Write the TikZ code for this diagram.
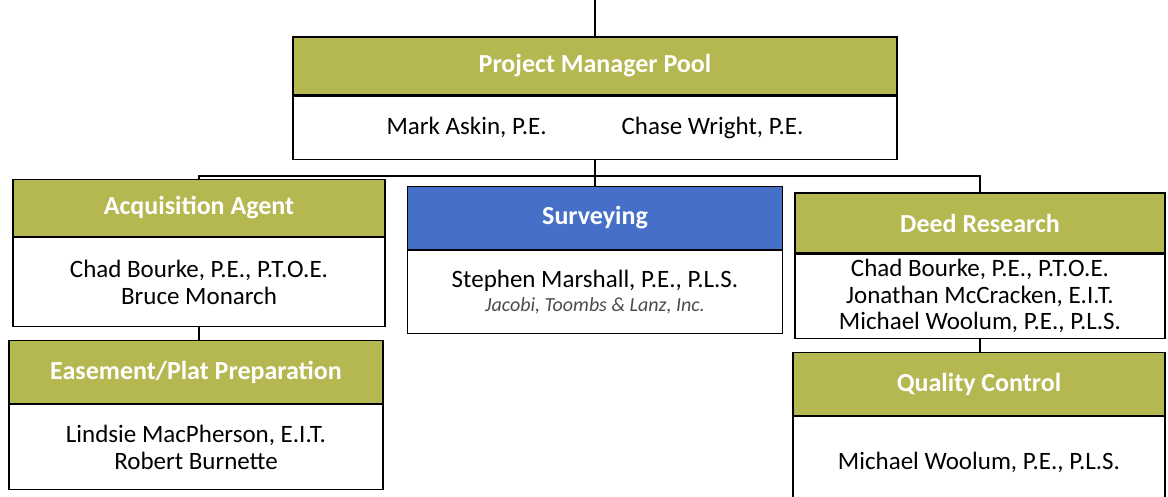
\documentclass[tikz,border=0pt]{standalone}
\usepackage{fontspec}
\setmainfont{Carlito}
\usepackage{tikz}
\usetikzlibrary{positioning}
\definecolor{olivehead}{RGB}{181,183,80}
\definecolor{bluehead}{RGB}{70,112,200}
\definecolor{firmgray}{gray}{0.3}

\begin{document}
\begin{tikzpicture}[x=1pt,y=1pt,
  head/.style={draw,line width=1.2pt,fill=olivehead,text=white,font=\fontsize{26}{28}\selectfont\bfseries,minimum height=60pt,inner sep=0pt},
  body/.style={draw,line width=1.2pt,fill=white,align=center,font=\fontsize{25}{26.5}\selectfont,inner sep=0pt},
  link/.style={line width=1.2pt},
]
\useasboundingbox (0,0) rectangle (1168,496);
% project manager pool
\node[head,minimum width=604pt,minimum height=58pt] (pm) at (595,430) {Project Manager Pool};
\node[body,minimum width=604pt,minimum height=63pt,below=0pt of pm] (pmBody) {Mark Askin, P.E.\hspace{75pt}Chase Wright, P.E.};
% second level
\node[head,minimum width=372pt,minimum height=57pt] (acq) at (199,288) {Acquisition Agent};
\node[body,minimum width=372pt,minimum height=89pt,below=0pt of acq] (acqBody) {Chad Bourke, P.E., P.T.O.E.\\Bruce Monarch};
\node[head,fill=bluehead,minimum width=375pt,minimum height=63pt] (surv) at (595,278) {Surveying};
\node[body,minimum width=375pt,minimum height=83pt,below=0pt of surv] (survBody) {Stephen Marshall, P.E., P.L.S.\\[-2pt]{\fontsize{20}{22}\selectfont\itshape\color{firmgray}Jacobi, Toombs \& Lanz, Inc.}};
\node[head,minimum width=370pt] (deed) at (980,273) {Deed Research};
\node[body,minimum width=370pt,minimum height=84pt,below=0pt of deed] (deedBody) {Chad Bourke, P.E., P.T.O.E.\\Jonathan McCracken, E.I.T.\\Michael Woolum, P.E., P.L.S.};
% third level
\node[head,minimum width=374pt,minimum height=63pt] (ease) at (196,124) {Easement/Plat Preparation};
\node[body,minimum width=374pt,minimum height=85pt,below=0pt of ease] (easeBody) {Lindsie MacPherson, E.I.T.\\Robert Burnette};
\node[head,minimum width=372pt,minimum height=63pt] (qc) at (979,112) {Quality Control};
\node[body,minimum width=372pt,minimum height=92pt,below=0pt of qc] (qcBody) {Michael Woolum, P.E., P.L.S.};
% connectors
\coordinate (top) at (595,496);
\coordinate (bar) at (595,320);
\draw[link] (top) -- (pm.north);
\draw[link] (pmBody.south) -- (surv.north);
\draw[link] (acq.north) |- (bar) -| (deed.north);
\draw[link] (acqBody.south) -- (ease.north -| acqBody.south);
\draw[link] (deedBody.south) -- (qc.north -| deedBody.south);
\end{tikzpicture}
\end{document}
